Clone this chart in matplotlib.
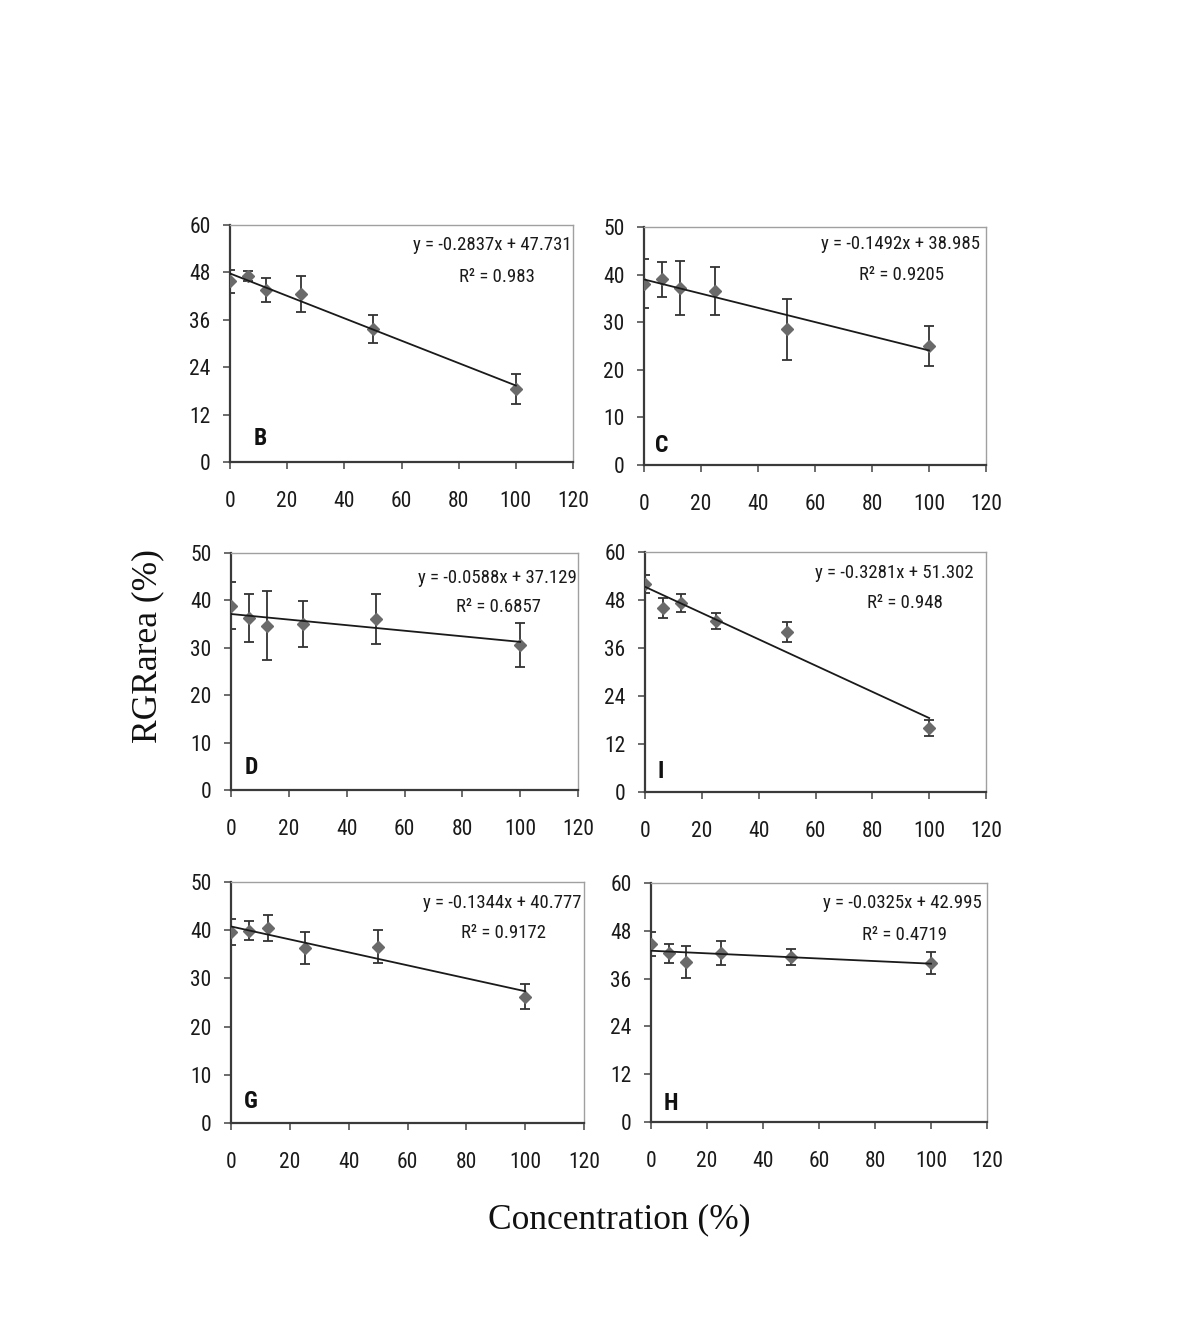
import matplotlib
matplotlib.use('Agg')
from matplotlib import pyplot as plt
from matplotlib import font_manager

# Concentraciones comunes a todos los paneles
conc = [0, 6.25, 12.5, 25, 50, 100]

b_media = [45.7, 47.1, 43.6, 42.5, 33.6, 18.4]
b_err = [2.9, 1.2, 3.0, 4.5, 3.5, 3.8]
c_media = [38.1, 39.0, 37.2, 36.6, 28.5, 25.0]
c_err = [5.2, 3.7, 5.7, 5.0, 6.4, 4.2]
d_media = [38.9, 36.3, 34.7, 35.0, 36.1, 30.6]
d_err = [5.0, 5.0, 7.2, 4.8, 5.3, 4.7]
i_media = [52.0, 46.0, 47.2, 42.8, 40.0, 16.1]
i_err = [2.3, 2.4, 2.3, 2.0, 2.4, 2.0]
g_media = [39.6, 39.9, 40.4, 36.3, 36.6, 26.2]
g_err = [2.7, 2.0, 2.7, 3.4, 3.5, 2.6]
h_media = [44.7, 42.4, 40.1, 42.5, 41.5, 39.9]
h_err = [3.0, 2.4, 4.0, 3.0, 2.0, 2.8]

letras = ['B', 'C', 'D', 'I', 'G', 'H']
pendientes = [-0.2837, -0.1492, -0.0588, -0.3281, -0.1344, -0.0325]
intercepts = [47.731, 38.985, 37.129, 51.302, 40.777, 42.995]
r2 = ['0.983', '0.9205', '0.6857', '0.948', '0.9172', '0.4719']
y_ticks = [[0, 12, 24, 36, 48, 60], [0, 10, 20, 30, 40, 50],
           [0, 10, 20, 30, 40, 50], [0, 12, 24, 36, 48, 60],
           [0, 10, 20, 30, 40, 50], [0, 12, 24, 36, 48, 60]]
x_ticks = [0, 20, 40, 60, 80, 100, 120]

medias = [b_media, c_media, d_media, i_media, g_media, h_media]
errores = [b_err, c_err, d_err, i_err, g_err, h_err]

# Fuente estrecha si existe (el original usa una letra condensada)
fuente = 'Liberation Sans'
estrecha = False
for f in font_manager.fontManager.ttflist:
    if f.name in ('Liberation Sans Narrow', 'Roboto Condensed', 'Open Sans Condensed'):
        fuente = f.name
        estrecha = True
        break
if not estrecha:
    for f in font_manager.fontManager.ttflist:
        if f.name == 'DejaVu Sans' and f.stretch == 'condensed' and f.weight == 400:
            fuente = font_manager.FontProperties(fname=f.fname)
            estrecha = True
            break


def props(size, weight='normal'):
    if isinstance(fuente, str):
        return font_manager.FontProperties(family=fuente, size=size, weight=weight)
    p = fuente.copy()
    p.set_size(size)
    return p


W, H = 1190, 1323
# Cajas de los ejes en pixeles: izquierda, derecha, arriba, abajo
cajas = [(230, 573, 225, 462), (644, 986, 227, 465),
         (231, 578, 553, 790), (645, 986, 552, 792),
         (231, 584, 882, 1123), (651, 987, 883, 1122)]
# Posiciones de textos en fraccion de ejes
pos_letra = [(0.087, 0.10), (0.053, 0.084), (0.058, 0.093),
             (0.046, 0.084), (0.056, 0.09), (0.06, 0.077)]
pos_ec = [(0.995, 0.916), (0.982, 0.93), (0.997, 0.894),
          (0.963, 0.912), (0.993, 0.913), (0.985, 0.916)]
pos_r2 = [(0.778, 0.782), (0.753, 0.797), (0.771, 0.774),
          (0.762, 0.787), (0.771, 0.788), (0.754, 0.783)]

tam_tick = 15.5 if estrecha else 14.5
tam_ec = 13.5 if estrecha else 12.5

fig = plt.figure(figsize=(W / 100, H / 100), dpi=100)

for k in range(6):
    l, r, t, b = cajas[k]
    ax = fig.add_axes([l / W, 1 - b / H, (r - l) / W, (b - t) / H])
    ax.errorbar(conc, medias[k], yerr=errores[k], fmt='none',
                ecolor='#333333', elinewidth=1.3, capsize=3.5, capthick=1.3, zorder=2)
    ax.plot(conc, medias[k], linestyle='none', marker='D', markersize=6,
            color='#6a6a6a', zorder=3)
    xs = [conc[0], conc[-1]]
    ys = [pendientes[k] * x + intercepts[k] for x in xs]
    ax.plot(xs, ys, color='#1a1a1a', linewidth=1.3, zorder=4)

    ax.set_xlim(0, 120)
    ax.set_ylim(y_ticks[k][0], y_ticks[k][-1])
    ax.set_xticks(x_ticks)
    ax.set_yticks(y_ticks[k])
    ax.tick_params(axis='both', direction='out', length=5, width=1.3,
                   color='#606060', labelcolor='#1a1a1a')
    ax.tick_params(axis='x', pad=16)
    ax.tick_params(axis='y', pad=9)
    for lab in ax.get_xticklabels() + ax.get_yticklabels():
        lab.set_fontproperties(props(tam_tick))
    for s in ['left', 'bottom']:
        ax.spines[s].set_color('#3a3a3a')
        ax.spines[s].set_linewidth(1.6)
    for s in ['top', 'right']:
        ax.spines[s].set_color('#a0a0a0')
        ax.spines[s].set_linewidth(1.0)

    ec = 'y = -{:.4f}x + {}'.format(abs(pendientes[k]), intercepts[k])
    ax.text(pos_ec[k][0], pos_ec[k][1], ec, transform=ax.transAxes,
            ha='right', va='center', fontproperties=props(tam_ec), color='#1a1a1a')
    ax.text(pos_r2[k][0], pos_r2[k][1], 'R² = ' + r2[k], transform=ax.transAxes,
            ha='center', va='center', fontproperties=props(tam_ec), color='#1a1a1a')
    ax.text(pos_letra[k][0], pos_letra[k][1], letras[k], transform=ax.transAxes,
            ha='center', va='center', fontproperties=props(17, 'bold'), color='#111111')

fig.text(148 / W, 1 - 646 / H, 'RGRarea (%)', rotation=90, ha='center', va='center',
         fontsize=25.5, family='Liberation Serif', color='#111111')
fig.text(619 / W, 1 - 1220 / H, 'Concentration (%)', ha='center', va='center',
         fontsize=25.5, family='Liberation Serif', color='#111111')

fig.savefig('out.png', dpi=100)
